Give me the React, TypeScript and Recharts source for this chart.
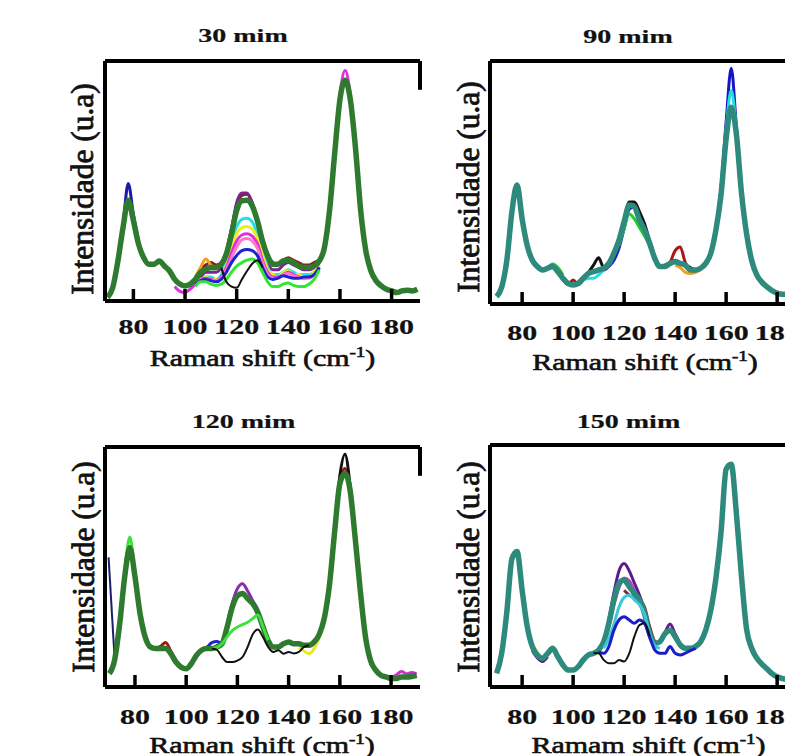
import React from 'react';
import { LineChart, Line, XAxis, YAxis, ReferenceLine } from 'recharts';

const SERIF = "'Times New Roman', 'Liberation Serif', serif";

// spectra sampled every 2 cm-1; main traces start at 70
const STEP = 2;
const MAIN_FROM = 70;
const xTicks = [80, 100, 120, 140, 160, 180];

const GREEN = '#2e7b30';
const TEAL = '#2d8a7c';

// ---- 30 mim ----
const m30Main = [1.5, 5.6, 16.7, 30.7, 42, 33.5, 23.7, 18, 15.3, 15.3, 16.7, 14.6, 12.5, 9, 7, 6.3, 7, 9, 11.9, 13.2, 14, 14, 15.3, 19.5, 28, 37.7, 41.8, 42, 39.7, 33.5, 25, 18.8, 15.3, 15.3, 16.7, 17, 16, 14.6, 14, 14, 14.6, 16.7, 22.3, 38, 62, 84, 92, 84, 64, 38, 21, 12.5, 8.4, 6.3, 4.9, 4.2, 3.5, 4.2, 4.5, 4.2, 4.9];
const m30DarkRed = [10, 13, 15, 16, 15, 16, 21, 30, 40, 44, 44.5, 41, 34, 26, 19, 16, 15, 17, 18, 17, 16, 15, 15, 16, 17];
const m30Purple = [8, 10, 12, 12, 12, 14, 20, 30, 41, 45, 45, 41, 33, 23, 16, 13, 13, 15, 16, 15, 14, 13, 13, 14, 16];
const m30Cyan = [8, 9, 10, 10, 9, 11, 17, 25, 31, 34, 34.5, 33, 28, 21, 14, 11, 11, 12, 13, 12, 11, 11, 11, 12, 15];
const m30Yellow = [8, 9, 10, 9, 9, 10, 15, 22, 28, 30.5, 31, 30, 26, 19, 13, 11, 10, 12, 12.5, 11, 11, 10, 10, 12, 15];
const m30Magenta = [6, 4, 3.5, 5, 7, 9, 9.5, 9, 8.5, 10, 14, 20, 25, 27.5, 28, 27, 24, 17, 12, 10, 10, 11, 12, 11, 10, 9.5, 10, 11, 14];
const m30Pink = [7.5, 9, 9, 8.5, 8.5, 9.5, 13, 18, 22.5, 25.5, 26, 25, 22, 16, 11, 9.5, 9.5, 11, 11.5, 10.5, 10, 9.5, 9.5, 11, 14];
const m30Blue = [7, 8.5, 9, 8.5, 8, 9, 12, 16, 19, 21, 21.5, 21, 19, 14, 10, 9, 9.5, 10.5, 10, 9.5, 9.5, 10, 10, 11, 14];
const m30Lime = [6, 8, 8, 7, 6.5, 7, 9, 12, 14.5, 16, 17, 17.5, 16, 12, 8, 6, 6, 7, 7.5, 6.5, 6, 6, 7, 9, 13];
const m30Black = [14, 8, 6, 5.5, 9, 12.5, 15.5, 17, 14];
const m30Orange = [10, 14, 17.5, 15, 13];
const m30BluePeak = [17, 32, 49, 36, 25];
const m30MagentaPeak = [62, 86, 96, 86, 64];

// ---- 90 mim ----
const m90Main = [3, 7, 18, 38, 49, 35, 24, 18, 15.4, 14, 14.7, 15.4, 13.3, 10.6, 8.5, 7.8, 8.5, 10.6, 12.6, 13.3, 14, 14.7, 16.7, 20.9, 26.3, 33.9, 40.7, 40, 34.6, 30.5, 25, 18.8, 15.4, 15.4, 16.7, 17.4, 16.7, 16, 14, 14, 14.7, 16.7, 20.9, 30.5, 45, 68, 81, 70, 46, 29, 18, 12, 9, 7, 5.5, 4.5, 4, 4, 4, 4, 4];
const m90BluePeak = [31, 48, 75, 97, 73, 47, 29];
const m90CyanPeak = [31, 47, 72, 88, 72, 47, 29];
const m90Blue = [14, 14, 15.5, 18, 23, 31, 39, 40];
const m90Cyan = [8.5, 10, 10.5, 10.6, 12, 14];
const m90Black = [11, 13, 16, 19, 15, 17, 21, 27, 34, 42, 42, 38, 33, 26, 19, 15, 16, 17, 18, 17, 16, 15, 14, 15, 17];
const m90Red = [13, 10, 8, 9.9, 8, 10];
const m90RedB = [15, 17, 22, 23.5, 17, 14, 14];
const m90Green = [24, 31, 37, 35, 31.5, 28, 24, 18];
const m90GreenB = [14, 15, 16.5, 15, 12];
const m90Orange = [16, 15, 13, 12.5, 13, 14];

// ---- 120 mim ----
const m120Main = [5.6, 11, 26, 46, 58, 46, 30.5, 20.8, 16.7, 16, 16, 16, 13.9, 10.4, 8.3, 7.6, 9.7, 13.2, 15.3, 16, 16, 16.7, 18, 25, 33.3, 38, 39, 36.8, 34.7, 31, 25, 19.4, 16.7, 16.7, 18, 18.8, 18, 18, 17.4, 17.4, 18.8, 22, 29, 43, 65, 84.7, 89, 82, 62, 40, 21, 11, 7, 4.9, 4.2, 3.5, 3.5, 4.2, 4.2, 4.4, 4.9];
const m120Lime = [16, 16.5, 18, 21, 23.5, 25, 26, 27, 28.5, 30, 25, 19.5];
const m120LimePeak = [28, 48, 62.5, 47, 31];
const m120Black = [16, 15.5, 12.5, 10.4, 10.4, 11, 12.5, 16.7, 22, 24, 20.8, 16.7, 14.6, 15.3, 13.9, 14.6, 14, 14.6, 16.7, 17.4];
const m120BlackPeak = [66, 88, 97, 84, 60];
const m120Purple = [26, 35, 41, 43, 40, 36, 32, 25];
const m120RedPeak = [46, 58.5, 46];
const m120RedBump = [16, 17, 18.5, 15, 11];
const m120RedTop = [86, 91, 83];
const m120Blue = [15.5, 16.5, 18.5, 19, 18, 24];
const m120Yellow = [16.5, 15, 13.9, 16, 21];
const m120Magenta = [4, 5, 6.5, 5.5, 6, 5.5];
const m120NavyX = [69.7, 72.1];
const m120NavyY = [54, 11];

// ---- 150 mim ----
const m150Main = [5.6, 14, 31, 53, 56, 40, 25, 16.7, 13.2, 11.8, 13.9, 16, 12.5, 9.1, 7, 7, 8.4, 11.2, 13.2, 13.9, 15.3, 18.7, 26.3, 36, 42.8, 44.2, 41.5, 38.7, 36, 30.4, 22, 18, 18.7, 22, 23.5, 20.8, 17.4, 16, 16, 16.7, 18.7, 23.5, 31.8, 45, 64, 90, 92, 72, 46, 24, 16, 12, 9.5, 7.5, 5.5, 4.2, 3.5, 3.2, 3, 3, 3];
const m150Purple = [15.3, 19, 28, 39, 48, 51, 48, 43, 38, 32, 23, 18, 18.7, 22.5, 26, 22, 17.5];
const m150Magenta = [18, 25, 34, 41, 45, 44, 40, 36, 30, 22];
const m150DarkRed = [40, 38, 37, 36, 33, 25, 19, 18];
const m150Cyan = [16, 20, 26, 33, 37, 38, 36, 34, 30, 22, 17, 16];
const m150Blue = [14.5, 13.9, 16.7, 23.5, 27.7, 29, 27.7, 26.3, 27.7, 26.3, 20.8, 15.3, 13.9, 13.9, 16.7, 13.9, 13.2, 14, 15, 16];
const m150Black = [14, 13.9, 11.2, 9.8, 9.8, 11.2, 10.5, 13.9, 20.8, 25.6, 26.3, 21];
const m150PurpleLow = [15, 12, 10.5, 12.5];
const m150Yellow = [17.5, 14.5];

type Pt = { x: number; y: number };
type Trace = { data: Pt[]; color: string; w: number };

const pts = (from: number, ys: number[]): Pt[] => ys.map((y, i) => ({ x: from + i * STEP, y }));
const tr = (from: number, ys: number[], color: string, w = 3): Trace => ({ data: pts(from, ys), color, w });

const panels = [
  {
    title: '30 mim', xName: 'Raman shift', L: 45, T: 0, W: 385, H: 376, top: 61, domain: [69, 191], corner: true, tickDy: 33,
    titlePos: [243, 42], xLabPos: [262.5, 366], yLabPos: [93, 189],
    traces: [
      tr(104, m30DarkRed, '#8e1b1b'),
      tr(104, m30Purple, '#7a2394'),
      tr(104, m30Orange, '#f0a020'),
      tr(104, m30Cyan, '#22e0e6'),
      tr(104, m30Yellow, '#ecec22'),
      tr(96, m30Magenta, '#dd2ee0'),
      tr(104, m30Pink, '#ff78c8'),
      tr(104, m30Blue, '#1f22cf'),
      tr(104, m30Lime, '#33e633'),
      tr(114, m30Black, '#111', 2),
      tr(74, m30BluePeak, '#1a1aa8'),
      tr(158, m30MagentaPeak, '#e030e0'),
      tr(MAIN_FROM, m30Main, GREEN, 5.5),
    ],
  },
  {
    title: '90 mim', xName: 'Raman shift', L: 429.5, T: 0, W: 385.2, H: 379, top: 61, domain: [67.4, 191], corner: false, tickDy: 36,
    titlePos: [628, 43], xLabPos: [645, 370], yLabPos: [479, 187],
    traces: [
      tr(104, m90Black, '#111'),
      tr(110, m90Blue, '#2020c8'),
      tr(102, m90Cyan, '#22dede'),
      tr(94, m90Red, '#a81818'),
      tr(136, m90RedB, '#a81818'),
      tr(118, m90Green, '#22cc22'),
      tr(88, m90GreenB, '#22cc22'),
      tr(140, m90Orange, '#f0a020'),
      tr(156, m90BluePeak, '#1515c8'),
      tr(156, m90CyanPeak, '#22dddd'),
      tr(MAIN_FROM, m90Main, TEAL, 5.5),
    ],
  },
  {
    title: '120 mim', xName: 'Raman shift', L: 44.5, T: 390, W: 385, H: 372, top: 57, domain: [68.3, 191.3], corner: true, tickDy: 37,
    titlePos: [243.5, 428], xLabPos: [262, 753], yLabPos: [94, 567],
    traces: [
      { data: m120NavyX.map((x, i) => ({ x, y: m120NavyY[i] })), color: '#1c1c6e', w: 2 },
      tr(116, m120Purple, '#8a2ab0'),
      tr(106, m120Blue, '#2222cc'),
      tr(144, m120Yellow, '#e8e820'),
      tr(180, m120Magenta, '#d030d0'),
      tr(76, m120RedPeak, '#991a1a'),
      tr(88, m120RedBump, '#991a1a'),
      tr(160, m120RedTop, '#991a1a'),
      tr(74, m120LimePeak, '#3de03d'),
      tr(158, m120BlackPeak, '#111'),
      tr(MAIN_FROM, m120Main, GREEN, 5.5),
      tr(110, m120Lime, '#3de03d'),
      tr(110, m120Black, '#111', 2),
    ],
  },
  {
    title: '150 mim', xName: 'Ramam shift', L: 429.5, T: 390, W: 385.2, H: 372, top: 55, domain: [67.4, 191], corner: false, tickDy: 37,
    titlePos: [628.5, 428], xLabPos: [648.5, 753], yLabPos: [479, 567],
    traces: [
      tr(110, m150Purple, '#5e1a8c'),
      tr(112, m150Magenta, '#c040c0'),
      tr(120, m150DarkRed, '#8a2a2a'),
      tr(84, m150PurpleLow, '#5e1a8c'),
      tr(84, m150Yellow, '#e8e820'),
      tr(MAIN_FROM, m150Main, TEAL, 5.5),
      tr(112, m150Cyan, '#3cc8dc'),
      tr(110, m150Blue, '#1c1cc8'),
      tr(108, m150Black, '#111', 2),
    ],
  },
];

function Squash(props: { x: number; y: number; sy: number; size: number; bold?: boolean; thick?: number; children: React.ReactNode }) {
  const { x, y, sy, size, bold, thick = 0, children } = props;
  return (
    <text transform={`translate(${x},${y}) scale(1,${sy})`} textAnchor="middle" fontFamily={SERIF}
      fontSize={size} fontWeight={bold ? 700 : 400} fill="#111" stroke="#111" strokeWidth={thick}>
      {children}
    </text>
  );
}

export default function App() {
  return (
    <div style={{ position: 'fixed', left: 0, top: 0, width: 785, height: 756, overflow: 'hidden', background: '#fff' }}>
      {panels.map((p) => (
        <div key={p.title} style={{ position: 'absolute', left: p.L, top: p.T }}>
          <LineChart width={p.W} height={p.H} margin={{ top: p.top, right: 10, bottom: 5, left: 0 }}>
            <XAxis
              type="number"
              dataKey="x"
              domain={p.domain}
              ticks={xTicks}
              interval={0}
              allowDataOverflow
              height={70}
              axisLine={{ stroke: '#000', strokeWidth: 4 }}
              tickLine={{ stroke: '#000', strokeWidth: 3.5 }}
              tickSize={-12}
              tickMargin={12}
              tick={(t: any) => (
                <Squash x={t.x} y={t.y + p.tickDy} sy={0.68} size={30} bold thick={0.3}>
                  {t.payload.value}
                </Squash>
              )}
            />
            <YAxis
              type="number"
              domain={[0, 100]}
              allowDataOverflow
              width={60}
              tick={false}
              tickLine={false}
              axisLine={{ stroke: '#000', strokeWidth: 4 }}
            />
            <ReferenceLine y={100} stroke="#000" strokeWidth={4} />
            {p.corner && (
              <ReferenceLine
                segment={[{ x: p.domain[1], y: 100 }, { x: p.domain[1], y: 88 }]}
                stroke="#000"
                strokeWidth={4}
              />
            )}
            {p.traces.map((t, i) => (
              <Line
                key={i}
                data={t.data}
                dataKey="y"
                type="monotone"
                stroke={t.color}
                strokeWidth={t.w}
                dot={false}
                activeDot={false}
                isAnimationActive={false}
              />
            ))}
          </LineChart>
        </div>
      ))}
      <svg width={785} height={756} style={{ position: 'absolute', left: 0, top: 0, pointerEvents: 'none' }}>
        {panels.map((p) => (
          <g key={p.title}>
            <Squash x={p.titlePos[0]} y={p.titlePos[1]} sy={0.7} size={28} bold thick={0.3}>
              {p.title}
            </Squash>
            <Squash x={p.xLabPos[0]} y={p.xLabPos[1]} sy={0.8} size={30} thick={0.8}>
              {p.xName} (cm<tspan dy={-11} fontSize={19}>-1</tspan>
              <tspan dy={11}>)</tspan>
            </Squash>
            <text
              transform={`translate(${p.yLabPos[0]},${p.yLabPos[1]}) rotate(-90)`}
              textAnchor="middle"
              fontFamily={SERIF}
              fontSize={31.5}
              fill="#111"
              stroke="#111"
              strokeWidth={0.8}
            >
              Intensidade (u.a)
            </text>
          </g>
        ))}
      </svg>
    </div>
  );
}
